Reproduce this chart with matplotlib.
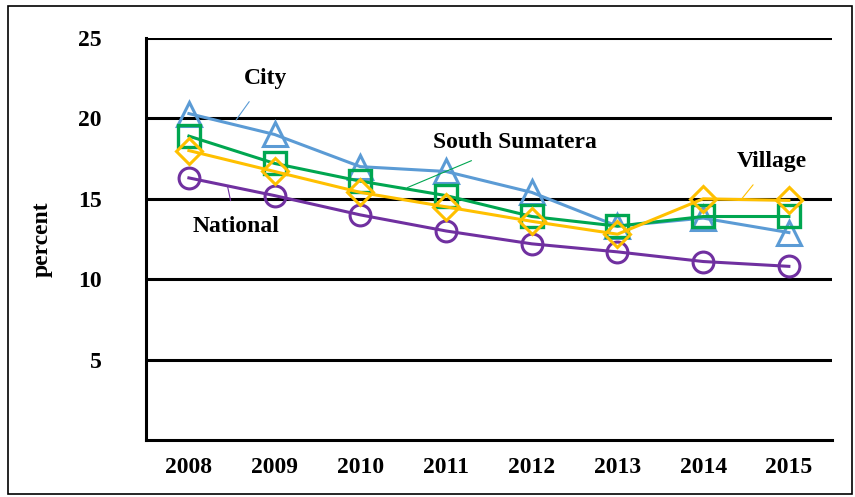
import matplotlib.pyplot as plt
from matplotlib.patches import Rectangle

years = ['2008', '2009', '2010', '2011', '2012', '2013', '2014', '2015']
city = [20.3, 19.0, 17.0, 16.7, 15.4, 13.3, 13.8, 12.9]
south_sumatera = [18.9, 17.2, 16.1, 15.2, 13.9, 13.3, 13.9, 13.9]
village = [18.0, 16.7, 15.4, 14.5, 13.6, 12.8, 15.0, 14.9]
national = [16.3, 15.2, 14.0, 13.0, 12.2, 11.7, 11.1, 10.8]

plt.rcParams['font.family'] = 'Liberation Serif'
plt.rcParams['font.weight'] = 'bold'

fig = plt.figure(figsize=(8.55, 4.97), dpi=100)
ax = fig.add_axes([0.1708, 0.1147, 0.802, 0.8088])

x = range(len(years))
ax.plot(x, national, color='#7030A0', lw=2.2, marker='o', ms=15, mfc='none', mew=2.2, zorder=3)
ax.plot(x, city, color='#5B9BD5', lw=2.2, marker='^', ms=17, mfc='none', mew=2.2, zorder=3)
ax.plot(x, south_sumatera, color='#00A650', lw=2.2, marker='s', ms=15.5, mfc='none', mew=2.4, zorder=4)
ax.plot(x, village, color='#FFC000', lw=2.2, marker='D', ms=13, mfc='none', mew=2.2, zorder=5)

ax.set_xlim(-0.5, 7.5)
ax.set_ylim(0, 25)
ax.set_yticks([5, 10, 15, 20, 25])
ax.set_xticks(list(x))
ax.set_xticklabels(years)
ax.tick_params(length=0, labelsize=17, pad=12)
ax.tick_params(axis='y', pad=32)
ax.yaxis.grid(True, color='black', lw=2.2)
ax.set_axisbelow(True)
for s in ['top', 'right']:
    ax.spines[s].set_visible(False)
for s in ['left', 'bottom']:
    ax.spines[s].set_linewidth(2.2)
ax.set_ylabel('percent', fontsize=17, fontweight='bold', labelpad=18)

# series labels with leader lines
ax.annotate('City', xy=(0.55, 19.9), xytext=(0.9, 22.5), fontsize=17, fontweight='bold',
            ha='center', va='center',
            arrowprops=dict(arrowstyle='-', color='#5B9BD5', lw=0.8, shrinkA=9, shrinkB=0))
ax.annotate('South Sumatera', xy=(2.55, 15.7), xytext=(3.8, 18.5), fontsize=17, fontweight='bold',
            ha='center', va='center',
            arrowprops=dict(arrowstyle='-', color='#00A650', lw=0.8, shrinkA=9, shrinkB=0))
ax.annotate('Village', xy=(6.45, 15.0), xytext=(6.8, 17.3), fontsize=17, fontweight='bold',
            ha='center', va='center',
            arrowprops=dict(arrowstyle='-', color='#FFC000', lw=0.8, shrinkA=9, shrinkB=0))
ax.annotate('National', xy=(0.45, 15.8), xytext=(0.55, 13.3), fontsize=17, fontweight='bold',
            ha='center', va='center',
            arrowprops=dict(arrowstyle='-', color='#7030A0', lw=0.8, shrinkA=9, shrinkB=0))

fig.patches.append(Rectangle((0.009, 0.006), 0.988, 0.982, transform=fig.transFigure,
                             fill=False, edgecolor='black', lw=1.2))

fig.savefig('out.png', dpi=100)
